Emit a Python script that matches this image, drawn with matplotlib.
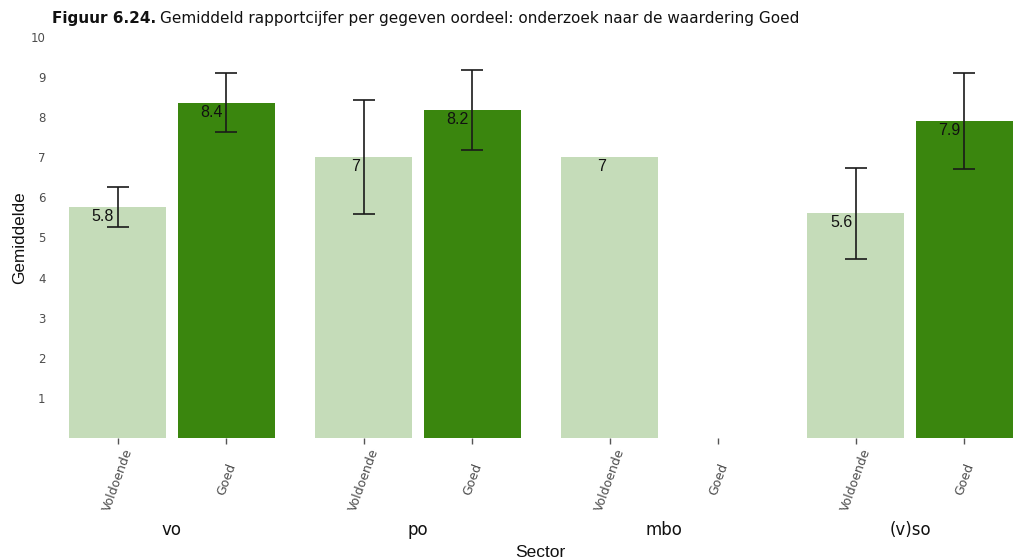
import numpy as np
import matplotlib
matplotlib.use("Agg")
import matplotlib.pyplot as plt
import matplotlib.transforms as mtransforms

# ---- data ----
sectors = ["vo", "po", "mbo", "(v)so"]
categories = ["Voldoende", "Goed"]
mean_voldoende = [5.76, 7.0, 7.0, 5.6]
mean_goed = [8.36, 8.17, np.nan, 7.9]
err_voldoende = [0.5, 1.42, np.nan, 1.14]
err_goed = [0.74, 1.0, np.nan, 1.2]
y_ticks = [1, 2, 3, 4, 5, 6, 7, 8, 9, 10]

colors = ["#C5DCB9", "#3A860E"]

W, H = 1019, 560
fig = plt.figure(figsize=(W / 100, H / 100), dpi=100)

axis_bottom_px = 438
axis_top_px = 37
facet_w = 217
facet_step = 246
left0 = 63.5

def fmt(v):
    s = f"{v:.1f}"
    if s.endswith(".0"):
        s = s[:-2]
    return s

axes = []
for i, sec in enumerate(sectors):
    ax = fig.add_axes([(left0 + facet_step * i) / W, (H - axis_bottom_px) / H,
                       facet_w / W, (axis_bottom_px - axis_top_px) / H])
    axes.append(ax)
    vals = [mean_voldoende[i], mean_goed[i]]
    errs = [err_voldoende[i], err_goed[i]]
    xs = np.arange(len(categories))
    for x, v, e, c in zip(xs, vals, errs, colors):
        if np.isnan(v):
            continue
        ax.bar(x, v, width=0.894, color=c, edgecolor="none", zorder=1)
        if not np.isnan(e):
            ax.errorbar(x, v, yerr=e, fmt="none", ecolor="#1a1a1a",
                        elinewidth=1.2, capsize=8, capthick=1.2, zorder=3)
        off = mtransforms.offset_copy(ax.transData, fig=fig, x=-3.5, y=-2, units="dots")
        ax.text(x, v, fmt(v), transform=off, ha="right", va="top",
                fontsize=11.5, family="Liberation Sans", color="#111111", zorder=4)
    ax.set_xlim(-0.5, 1.5)
    ax.set_ylim(0, 10)
    ax.set_xticks(xs)
    ax.set_xticklabels(categories, rotation=70, ha="center", va="center",
                       rotation_mode="anchor", fontsize=9, color="#4d4d4d")
    ax.tick_params(axis="x", length=4, width=1, color="#555555", pad=26)
    for s in ax.spines.values():
        s.set_visible(False)
    if i == 0:
        ax.set_yticks(y_ticks)
        ax.set_yticklabels([str(t) for t in y_ticks], fontsize=8.5, color="#4d4d4d")
        ax.tick_params(axis="y", length=0, pad=13)
    else:
        ax.set_yticks([])
    ax.text(0.5, -(530 - axis_bottom_px) / (axis_bottom_px - axis_top_px), sec,
            transform=ax.transAxes, ha="center", va="center", fontsize=12,
            color="#111111")

fig.text(540.5 / W, 1 - 557 / H, "Sector", ha="center", va="baseline",
         fontsize=12.5, family="Liberation Sans", color="#111111")
fig.text(19.5 / W, 1 - 237.5 / H, "Gemiddelde", ha="center", va="center",
         rotation=90, fontsize=12.3, family="Liberation Sans", color="#111111")

t1 = fig.text(52 / W, 1 - 18 / H, "Figuur 6.24.", fontweight="bold",
              fontsize=11, va="center", ha="left", color="#111111")
fig.canvas.draw()
r = fig.canvas.get_renderer()
bb = t1.get_window_extent(renderer=r)
fig.text((bb.x1 + 4) / W, 1 - 18 / H,
         "Gemiddeld rapportcijfer per gegeven oordeel: onderzoek naar de waardering Goed",
         fontsize=11, va="center", ha="left", color="#111111")

fig.savefig("out.png", dpi=100)
